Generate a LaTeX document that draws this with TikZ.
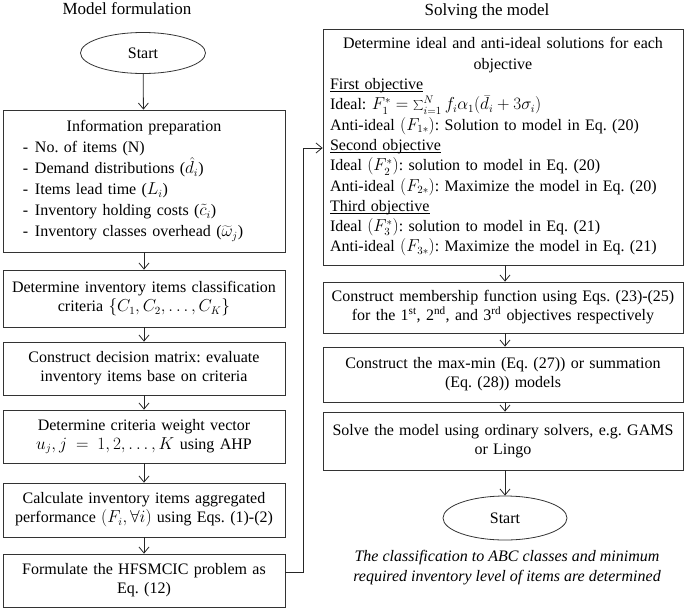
\documentclass[tikz,border=0pt]{standalone}
\usepackage{fontspec}
\setmainfont{Liberation Serif}
\usetikzlibrary{arrows.meta,shapes.geometric}
\frenchspacing
\newcommand\myul[1]{\leavevmode\setbox0\hbox{#1}\rlap{\rule[-2.2pt]{\wd0}{0.7pt}}\box0}
\begin{document}
\begin{tikzpicture}[x=1pt,y=-1pt,
  >={Straight Barb[length=6pt,width=10pt]},
  base/.style={draw=black!80, line width=0.8pt, font=\fontsize{16}{19}\selectfont},
  lbox/.style={base, text width=272pt, inner xsep=5pt, inner ysep=0pt, align=center},
  rbox/.style={base, text width=346pt, inner xsep=7pt, inner ysep=0pt, align=center},
  term/.style={base, ellipse, minimum width=125pt, minimum height=41pt, inner sep=0pt},
  ttl/.style={font=\fontsize{17}{19}\selectfont},
  conn/.style={->, draw=black!85, line width=0.8pt}]
\useasboundingbox (0,0) rectangle (685,608);

\node[ttl] (t1) at (127,9) {Model formulation};
\node[ttl] (t2) at (487,11) {Solving the model};

\node[term] (s) at (143,53) {Start};

\node[lbox, minimum height=142pt, align=left, font=\fontsize{16}{21}\selectfont] (info) at (144,181) {%
\centerline{Information preparation}
\hspace*{15pt}\makebox[12pt][l]{-}No. of items (N)\\
\hspace*{15pt}\makebox[12pt][l]{-}Demand distributions ($\hat{d}_i$)\\
\hspace*{15pt}\makebox[12pt][l]{-}Items lead time ($L_i$)\\
\hspace*{15pt}\makebox[12pt][l]{-}Inventory holding costs ($\tilde{c}_i$)\\
\hspace*{15pt}\makebox[12pt][l]{-}Inventory classes overhead ($\widetilde{\omega}_j$)};

\node[lbox, minimum height=57pt] (crit) at (144,298.5) {Determine inventory items classification\\criteria $\{C_1, C_2, \dots, C_K\}$};
\node[lbox, minimum height=53pt] (dec) at (144,368.5) {Construct decision matrix: evaluate\\inventory items base on criteria};
\node[lbox, minimum height=53pt] (weight) at (144,436.5) {Determine criteria weight vector\\$u_j, j = 1,2, \dots, K$ using AHP};
\node[lbox, minimum height=54pt] (calc) at (144,510) {Calculate inventory items aggregated\\performance $(F_i, \forall i)$ using Eqs. (1)-(2)};
\node[lbox, minimum height=53pt] (form) at (144,580.5) {Formulate the HFSMCIC problem as\\Eq. (12)};

\node[rbox, minimum height=236pt, align=left, font=\fontsize{16}{20.3}\selectfont] (ideal) at (503,147) {%
\centerline{Determine ideal and anti-ideal solutions for each}
\centerline{objective}
\myul{First objective}\\
Ideal: $F_1^* = \sum_{i=1}^{N} f_i \alpha_1 \bigl(\bar{d}_i + 3\sigma_i\bigr)$\\
Anti-ideal $(F_{1*})$: Solution to model in Eq. (20)\\
\myul{Second objective}\\
Ideal $(F_2^*)$: solution to model in Eq. (20)\\
Anti-ideal $(F_{2*})$: Maximize the model in Eq. (20)\\
\myul{Third objective}\\
Ideal $(F_3^*)$: solution to model in Eq. (21)\\
Anti-ideal $(F_{3*})$: Maximize the model in Eq. (21)\par\vspace*{8pt}};

\node[rbox, minimum height=51pt] (memb) at (503,307.5) {Construct membership function using Eqs. (23)-(25)\\for the 1\textsuperscript{st}, 2\textsuperscript{nd}, and 3\textsuperscript{rd} objectives respectively};
\node[rbox, minimum height=55pt] (maxmin) at (503,374.5) {Construct the max-min (Eq. (27)) or summation\\(Eq. (28)) models};
\node[rbox, minimum height=58pt] (solve) at (503,441) {Solve the model using ordinary solvers, e.g. GAMS\\or Lingo};

\node[term, minimum height=44pt, minimum width=124pt] (end) at (505,518) {Start};
\node[font=\fontsize{16}{20}\selectfont\itshape, align=center] (note) at (507,568) {The classification to ABC classes and minimum\\required inventory level of items are determined};

\draw[conn] (s) -- (info);
\draw[conn] (info) -- (crit);
\draw[conn] (crit) -- (dec);
\draw[conn] (dec) -- (weight);
\draw[conn] (weight) -- (calc);
\draw[conn] (calc) -- (form);

\coordinate (bend) at (303,148);
\draw[conn] ([yshift=8.5pt]form.east) -| (bend) -- (ideal.west |- bend);

\draw[conn] ([xshift=2pt]ideal.south) -- ([xshift=2pt]memb.north);
\draw[conn] ([xshift=2pt]memb.south) -- ([xshift=2pt]maxmin.north);
\draw[conn] ([xshift=2pt]maxmin.south) -- ([xshift=2pt]solve.north);
\draw[conn] ([xshift=2pt]solve.south) -- (end);
\end{tikzpicture}
\end{document}
